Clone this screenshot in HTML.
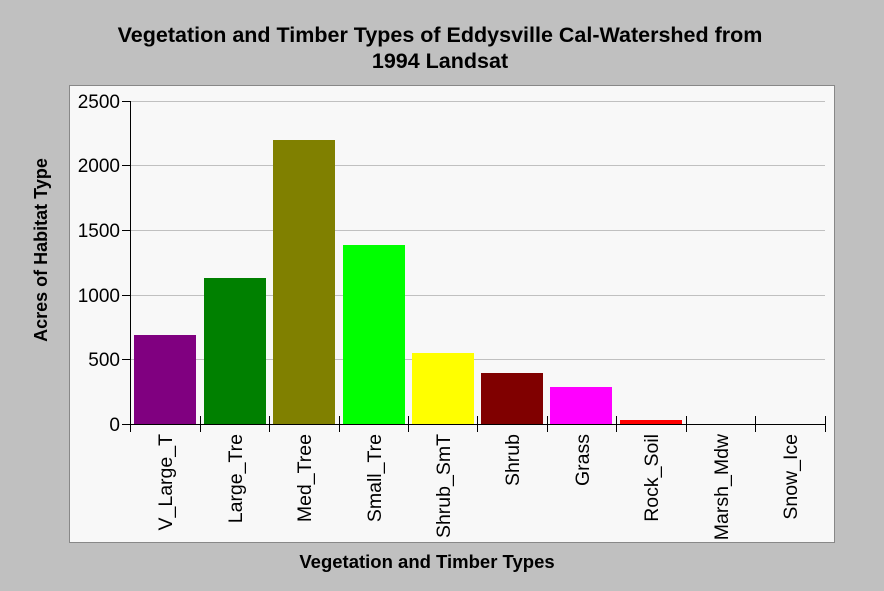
<!DOCTYPE html>
<html><head><style>body{margin:0;background:#c0c0c0;}svg{display:block;font-family:"Liberation Sans",Arial,sans-serif;}</style></head><body>
<svg width="884" height="591" xmlns="http://www.w3.org/2000/svg">
<rect width="884" height="591" fill="#c0c0c0"/>
<rect x="69.5" y="85.5" width="765" height="457" fill="#f8f8f8" stroke="#888" stroke-width="1"/>
<text x="440" y="42" text-anchor="middle" font-size="21.5" font-weight="bold">Vegetation and Timber Types of Eddysville Cal-Watershed from</text>
<text x="440" y="68" text-anchor="middle" font-size="21.5" font-weight="bold">1994 Landsat</text>
<g stroke="#c0c0c0" stroke-width="1">
<line x1="130" x2="825" y1="101.5" y2="101.5"/><line x1="130" x2="825" y1="165.5" y2="165.5"/><line x1="130" x2="825" y1="230.5" y2="230.5"/><line x1="130" x2="825" y1="295.5" y2="295.5"/><line x1="130" x2="825" y1="359.5" y2="359.5"/>
</g>
<g>
<rect x="134" y="335" width="62" height="89" fill="#800080"/>
<rect x="204" y="278" width="62" height="146" fill="#008000"/>
<rect x="273" y="140" width="62" height="284" fill="#808000"/>
<rect x="343" y="245" width="62" height="179" fill="#00ff00"/>
<rect x="412" y="353" width="62" height="71" fill="#ffff00"/>
<rect x="481" y="373" width="62" height="51" fill="#800000"/>
<rect x="550" y="387" width="62" height="37" fill="#ff00ff"/>
<rect x="620" y="420" width="62" height="4" fill="#ff0000"/>
</g>
<g stroke="#000" stroke-width="1">
<line x1="130.5" y1="101" x2="130.5" y2="432"/>
<line x1="130" y1="424.5" x2="825" y2="424.5"/>
<line x1="122" x2="130" y1="101.5" y2="101.5"/><line x1="122" x2="130" y1="165.5" y2="165.5"/><line x1="122" x2="130" y1="230.5" y2="230.5"/><line x1="122" x2="130" y1="295.5" y2="295.5"/><line x1="122" x2="130" y1="359.5" y2="359.5"/><line x1="122" x2="130" y1="424.5" y2="424.5"/>
<line x1="200.5" x2="200.5" y1="416" y2="432"/><line x1="269.5" x2="269.5" y1="416" y2="432"/><line x1="339.5" x2="339.5" y1="416" y2="432"/><line x1="408.5" x2="408.5" y1="416" y2="432"/><line x1="477.5" x2="477.5" y1="416" y2="432"/><line x1="547.5" x2="547.5" y1="416" y2="432"/><line x1="616.5" x2="616.5" y1="416" y2="432"/><line x1="686.5" x2="686.5" y1="416" y2="432"/><line x1="755.5" x2="755.5" y1="416" y2="432"/><line x1="825.5" x2="825.5" y1="416" y2="432"/>
</g>
<g font-size="19" text-anchor="end">
<text x="120" y="108">2500</text><text x="120" y="172">2000</text><text x="120" y="237">1500</text><text x="120" y="302">1000</text><text x="120" y="366">500</text><text x="120" y="431">0</text>
</g>
<g font-size="19.5" text-anchor="end">
<text transform="translate(172,434) rotate(-90)">V_Large_T</text>
<text transform="translate(242,434) rotate(-90)">Large_Tre</text>
<text transform="translate(311,434) rotate(-90)">Med_Tree</text>
<text transform="translate(381,434) rotate(-90)">Small_Tre</text>
<text transform="translate(450,434) rotate(-90)">Shrub_SmT</text>
<text transform="translate(519,434) rotate(-90)">Shrub</text>
<text transform="translate(589,434) rotate(-90)">Grass</text>
<text transform="translate(658,434) rotate(-90)">Rock_Soil</text>
<text transform="translate(728,434) rotate(-90)">Marsh_Mdw</text>
<text transform="translate(797,434) rotate(-90)">Snow_Ice</text>
</g>
<text x="427" y="568" text-anchor="middle" font-size="18.5" font-weight="bold">Vegetation and Timber Types</text>
<text transform="translate(47,250) rotate(-90)" text-anchor="middle" font-size="18" font-weight="bold">Acres of Habitat Type</text>
</svg>
</body></html>
